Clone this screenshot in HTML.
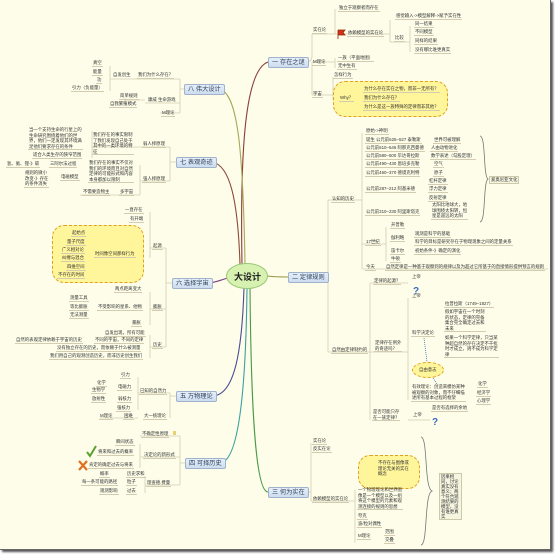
<!DOCTYPE html>
<html><head><meta charset="utf-8">
<style>
html,body{margin:0;padding:0;}
body{width:557px;height:554px;position:relative;overflow:hidden;background:#fff;font-family:"Liberation Sans","Noto Sans CJK SC",sans-serif;}
#bg{position:absolute;left:0;top:0;width:550px;height:549px;background:#fdfde9;box-shadow:2px 2px 2px #555;border-right:1px solid #666;border-bottom:1px solid #666;}
.t{position:absolute;font-size:4.4px;line-height:5.6px;white-space:nowrap;color:#333;border-bottom:0.7px solid #d2cdb0;padding:0 1px;}
.n{border-bottom:none;}
.main{position:absolute;font-size:6.2px;line-height:9px;height:9px;padding:0 3px;background:linear-gradient(#e6eff9,#cddcef);border:0.8px solid #9fb3cc;border-radius:2px;color:#2b3f5a;white-space:nowrap;}
.cloud{position:absolute;background:#fff59b;border:1px dashed #e0a020;border-radius:12px;}
svg{position:absolute;left:0;top:0;}
</style></head><body>
<div id="bg"></div>
<svg width="557" height="554" viewBox="0 0 557 554">
 <g fill="none" stroke-width="1.1">
  <path d="M242,264 C240,150 245,70 268,62" stroke="#8a3b3b"/>
  <path d="M245,264 C243,150 238,95 220,89" stroke="#a8a85a"/>
  <path d="M240,265 C238,200 230,165 212,162" stroke="#8c4a3a"/>
  <path d="M228,278 C220,280 215,283 207,283" stroke="#7a3f8a"/>
  <path d="M267,276 C275,277 280,277 288,277" stroke="#9a9a4a"/>
  <path d="M244,288 C242,350 235,396 212,396" stroke="#4a4a9a"/>
  <path d="M247,288 C246,380 240,462 220,463" stroke="#3aa0a0"/>
  <path d="M250,288 C251,400 255,492 268,492" stroke="#4a9a4a"/>
 </g>
 <g fill="none" stroke="#d2cdb0" stroke-width="0.8">
  <path d="M268,62 H306 M306,62 C310,62 312,60 312,56 V34 M312,62 V95"/>
  <path d="M312,34 H335 M335,34 V9 M335,34 H390 M390,20 V42 M390,42 H410 M410,26 V52"/>
  <path d="M312,62 H335 M335,58 V68"/>
  <path d="M312,95 H333 M333,77 V100"/>
  <path d="M184,89 H180 M180,79 V113 M180,79 H135 M135,79 H110 M110,66 V91 M180,103 H145 M145,100 H125 M125,98 V106 M180,113 H160"/>
  <path d="M176,162 H170 M170,147 V181 M170,147 H140 M140,147 H92 M92,131 V158 M170,181 H140 M140,165 V195 M140,195 H80"/>
  <path d="M172,283 H166 M166,248 V347 M166,248 H150 M150,212 V258 M166,309 H150 M150,292 V325 M166,347 H150 M150,335 V358"/>
  <path d="M176,396 H170 M170,393 V418 M170,393 H138 M138,377 V410 M138,418 H100"/>
  <path d="M185,463 H180 M180,436 V485 M180,436 H140 M180,457 H140 M140,444 V468 M180,485 H145 M145,476 V493"/>
  <path d="M323,277 H328 M328,200 V352 M328,200 H362 M362,133 V269 M362,244 H386 M386,227 V261 M362,269 H548"/>
  <path d="M328,352 H370 M370,283 V420 M370,283 H408 M370,352 H408 M408,298 V400 M408,420 H430"/>
  <path d="M306,492 H311 M311,443 V501 M311,501 H355 M355,490 V543"/>
 </g>
 <path d="M480,136 C486,136 483,176 488,179 C483,182 486,222 480,222" fill="none" stroke="#777" stroke-width="0.8"/>
 <path d="M421,437 C428,437 424,488 432,491 C424,494 428,545 421,545" fill="none" stroke="#777" stroke-width="0.8"/>
 <path d="M424,338 L427,362 M433,378 L437,384" stroke="#3a6ac0" stroke-width="0.8" stroke-dasharray="1,1"/>
 <ellipse cx="247" cy="276" rx="20.5" ry="12.5" fill="#d7f2b0" stroke="#98c878" stroke-width="1"/>
 <!-- flags -->
 <path d="M338,30 V39 M338,30 H345 L343,32.5 L345,35 H338" stroke="#8a2a10" stroke-width="0.8" fill="#d83010"/>
 <path d="M366,462 V472 M366,462 H373 L371,465 L373,468 H366" stroke="#8a2a10" stroke-width="0.8" fill="#d83010"/>
 <!-- question marks -->
 <text x="413" y="294" font-size="10" font-weight="bold" fill="#3a6ac0" font-family="Liberation Sans,sans-serif">?</text>
 <text x="432" y="425" font-size="10" font-weight="bold" fill="#3a6ac0" font-family="Liberation Sans,sans-serif">?</text>
 <!-- check / cross -->
 <path d="M87,452 L90,456 L96,446" stroke="#5aa030" stroke-width="2" fill="none"/>
 <path d="M79,461 L87,470 M87,461 L79,470" stroke="#e07020" stroke-width="2.2"/>
 <rect x="173" y="431" width="3" height="4" fill="#e8d070"/>
</svg>

<div class="cloud" style="left:333px;top:81px;width:113px;height:34px;"></div>
<div class="cloud" style="left:52px;top:225px;width:90px;height:56px;"></div>
<div class="cloud" style="left:358px;top:455px;width:60px;height:32px;"></div>
<div style="position:absolute;left:412px;top:362px;width:30px;height:14px;border-radius:50%;background:#fff59b;border:1px dashed #e0a020;"></div>

<div style="position:absolute;left:227px;top:270px;width:41px;text-align:center;font-size:9px;font-weight:bold;color:#222;">大设计</div>

<div class="main" style="left:268px;top:57px;">一 存在之谜</div>
<div class="main" style="left:288px;top:272px;">二 定律规则</div>
<div class="main" style="left:268px;top:487px;">三 何为实在</div>
<div class="main" style="left:185px;top:458px;">四 可择历史</div>
<div class="main" style="left:176px;top:391px;">五 万物理论</div>
<div class="main" style="left:172px;top:278px;">六 选择宇宙</div>
<div class="main" style="left:176px;top:157px;">七 表观奇迹</div>
<div class="main" style="left:184px;top:84px;">八 伟大设计</div>

<!-- 一 -->
<div class="t" style="left:338px;top:5px;">独立于观察者而存在</div>
<div class="t" style="left:312px;top:27px;">实在论</div>
<div class="t" style="left:347px;top:30px;">依赖模型的实在论</div>
<div class="t" style="left:395px;top:13px;">感觉输入->模型解释->赋予实在性</div>
<div class="t" style="left:394px;top:35px;">比较</div>
<div class="t" style="left:414px;top:21px;">同一结果</div>
<div class="t" style="left:414px;top:29px;">不同模型</div>
<div class="t" style="left:414px;top:38px;">同样的结果</div>
<div class="t" style="left:414px;top:47px;">没有哪比谁更真实</div>
<div class="t" style="left:312px;top:59px;">M理论</div>
<div class="t" style="left:337px;top:55px;">一族（平面地图）</div>
<div class="t" style="left:337px;top:63px;">无中生有</div>
<div class="t" style="left:312px;top:91px;">宇宙</div>
<div class="t" style="left:333px;top:72px;">怎样行为</div>
<div class="t" style="left:339px;top:95px;">Why？</div>
<div class="t" style="left:363px;top:86px;">为什么存在实在之物，而非一无所有？</div>
<div class="t" style="left:363px;top:95px;">我们为什么存在？</div>
<div class="t" style="left:363px;top:104px;">为什么是这一族特殊的定律而非其他？</div>

<!-- 二 -->
<div class="t" style="left:365px;top:128px;">原始->神明</div>
<div class="t" style="left:365px;top:137px;">诞生 公元前625–527 泰勒斯</div>
<div class="t" style="left:433px;top:137px;">世界可被理解</div>
<div class="t" style="left:365px;top:145px;">公元前610–546 阿那克西曼德</div>
<div class="t" style="left:430px;top:145px;">人由动物进化</div>
<div class="t" style="left:365px;top:153px;">公元前580–500 毕达哥拉斯</div>
<div class="t" style="left:430px;top:153px;">数学表述（勾股定理）</div>
<div class="t" style="left:365px;top:161px;">公元前490–430 恩培多克勒</div>
<div class="t" style="left:433px;top:161px;">空气</div>
<div class="t" style="left:365px;top:170px;">公元前460–370 德谟克利特</div>
<div class="t" style="left:433px;top:170px;">原子</div>
<div class="t" style="left:428px;top:178px;">杠杆定律</div>
<div class="t" style="left:365px;top:186px;">公元前287–212 阿基米德</div>
<div class="t" style="left:428px;top:186px;">浮力定律</div>
<div class="t" style="left:428px;top:195px;">反射定律</div>
<div class="t" style="left:365px;top:209px;">公元前310–230 阿里斯塔克</div>
<div class="t" style="left:431px;top:202px;">太阳比地球大，地<br>球围绕太阳转，恒<br>星是遥远的太阳</div>
<div class="t" style="left:489px;top:176px;border:0.7px solid #ccc8a8;background:#f6f5e0;">爱奥尼亚文化</div>
<div class="t" style="left:331px;top:196px;">认知的历史</div>
<div class="t" style="left:365px;top:239px;">17世纪</div>
<div class="t" style="left:390px;top:222px;">开普勒</div>
<div class="t" style="left:390px;top:235px;">伽利略</div>
<div class="t" style="left:414px;top:231px;">观测是科学的基础</div>
<div class="t" style="left:414px;top:239px;">科学的目标是研究存在于物理现象之间的定量关系</div>
<div class="t" style="left:390px;top:248px;">笛卡尔</div>
<div class="t" style="left:414px;top:248px;">初始条件-》确定的演化</div>
<div class="t" style="left:390px;top:256px;">牛顿</div>
<div class="t" style="left:365px;top:264px;">今天</div>
<div class="t" style="left:385px;top:264px;">自然定律是一种基于观察到的规律以及为超过它所基于的直接情形提供预言的规则</div>
<div class="t" style="left:373px;top:278px;">定律的起源？</div>
<div class="t n" style="left:411px;top:274px;">上帝</div>
<div class="t n" style="left:411px;top:293px;">上帝</div>
<div class="t" style="left:444px;top:301px;">拉普拉斯（1749–1827）</div>
<div class="t" style="left:444px;top:309px;">假如宇宙在一个时刻<br>的状态，定律的完备<br>集合完全确定过去和<br>未来</div>
<div class="t" style="left:411px;top:330px;">科学决定论</div>
<div class="t" style="left:444px;top:335px;">如果一个科学定律，只当某<br>种超自然的存在决定不干扰<br>时才成立，则不成为科学定<br>律</div>
<div class="t" style="left:374px;top:340px;">定律存在例外<br>的奇迹吗？</div>
<div class="t" style="left:331px;top:347px;">自然由定律制约的</div>
<div class="t n" style="left:418px;top:367px;">自由意志</div>
<div class="t" style="left:411px;top:384px;">有效理论：创造来模仿某种<br>被观察的对象，而不仔细描<br>述所有基本过程的框架</div>
<div class="t" style="left:477px;top:381px;">化学</div>
<div class="t" style="left:476px;top:390px;">经济学</div>
<div class="t" style="left:476px;top:398px;">心理学</div>
<div class="t" style="left:372px;top:409px;">是否可能只存<br>在一族定律？</div>
<div class="t n" style="left:412px;top:412px;">上帝</div>
<div class="t" style="left:431px;top:405px;">是否有选择的余地</div>

<!-- 三 -->
<div class="t" style="left:312px;top:438px;">实在论</div>
<div class="t" style="left:312px;top:446px;">反实在论</div>
<div class="t n" style="left:377px;top:460px;">不存在与图像或<br>理论无关的实在<br>概念</div>
<div class="t" style="left:312px;top:496px;">依赖模型的实在论</div>
<div class="t" style="left:357px;top:487px;">一个物理理论和世界图<br>像是一个模型以及一组<br>将这个模型的元素和观<br>测连接的规则的思想</div>
<div class="t" style="left:357px;top:513px;">夸克</div>
<div class="t" style="left:357px;top:521px;">波/粒对偶性</div>
<div class="t" style="left:357px;top:533px;">M理论</div>
<div class="t" style="left:384px;top:529px;">范围</div>
<div class="t" style="left:384px;top:537px;">交叠</div>
<div class="t" style="left:439px;top:473px;width:19px;white-space:normal;border:0.7px solid #ccc8a8;background:#f6f5e0;line-height:5px;">因果相同，讨论真实没有意义；两个符合观测结果的模型，没有谁更真实</div>

<!-- 八 -->
<div class="t" style="left:92px;top:60px;">真空</div>
<div class="t" style="left:92px;top:69px;">能量</div>
<div class="t" style="left:96px;top:77px;">功</div>
<div class="t" style="left:71px;top:85px;">引力（负能量）</div>
<div class="t n" style="left:112px;top:72px;">自发创生</div>
<div class="t" style="left:137px;top:72px;">我们为什么存在？</div>
<div class="t" style="left:119px;top:93px;">简单规则</div>
<div class="t n" style="left:147px;top:97px;">康威 生命游戏</div>
<div class="t" style="left:109px;top:101px;">自我繁殖模式</div>
<div class="t" style="left:161px;top:110px;">M理论</div>

<!-- 七 -->
<div class="t" style="left:28px;top:127px;">当一个支持生命的行星上的<br>生命研究围绕着他们的世<br>界，他们一定发现其环境满<br>足他们要求存在的条件</div>
<div class="t" style="left:92px;top:132px;">我们存在的事实限制<br>了我们发现自己处于<br>其中的一类环境的特<br>征</div>
<div class="t" style="left:142px;top:141px;">弱人择原理</div>
<div class="t" style="left:32px;top:152px;">适合人类生存的狭窄范围</div>
<div class="t" style="left:6px;top:161px;">氢、氦、锂-》碳</div>
<div class="t" style="left:49px;top:161px;">三阿尔法过程</div>
<div class="t" style="left:88px;top:160px;">我们存在的事实不仅对<br>我们的环境而且对自然<br>定律的可能形式和内容<br>本身都加以限制</div>
<div class="t" style="left:24px;top:170px;">规则的微小<br>改变-》存在<br>的条件消失</div>
<div class="t" style="left:60px;top:174px;">电磁模型</div>
<div class="t" style="left:142px;top:176px;">强人择原理</div>
<div class="t" style="left:82px;top:189px;">不需要造物主</div>
<div class="t" style="left:119px;top:189px;">多宇宙</div>

<!-- 六 -->
<div class="t" style="left:124px;top:207px;">一直存在</div>
<div class="t" style="left:129px;top:216px;">有开端</div>
<div class="t" style="left:71px;top:230px;">起始点</div>
<div class="t" style="left:66px;top:239px;">量子尺度</div>
<div class="t" style="left:61px;top:247px;">广义相对论</div>
<div class="t" style="left:61px;top:255px;">纠缠与混合</div>
<div class="t" style="left:66px;top:264px;">四维空间</div>
<div class="t" style="left:57px;top:272px;">不存在的时间</div>
<div class="t" style="left:94px;top:251px;">时间像空间那样行为</div>
<div class="t" style="left:152px;top:243px;">起源</div>
<div class="t" style="left:114px;top:286px;">两点距离变大</div>
<div class="t" style="left:69px;top:295px;">测量工具</div>
<div class="t" style="left:69px;top:304px;">等比膨胀</div>
<div class="t" style="left:69px;top:312px;">无法测量</div>
<div class="t" style="left:97px;top:304px;">不受影响的星系、他物</div>
<div class="t" style="left:152px;top:304px;">膨胀</div>
<div class="t" style="left:131px;top:320px;">暴胀</div>
<div class="t" style="left:104px;top:330px;">自发出现，所有可能</div>
<div class="t" style="left:15px;top:337px;">自然的表观定律依赖于宇宙的历史</div>
<div class="t" style="left:94px;top:337px;">不同的宇宙，不同的定律</div>
<div class="t" style="left:56px;top:345px;">没有独立存在的历史，而依赖于什么被测量</div>
<div class="t" style="left:49px;top:353px;">我们用自己的观测创造历史，而非历史创生我们</div>
<div class="t" style="left:152px;top:342px;">历史</div>

<!-- 五 -->
<div class="t" style="left:120px;top:372px;">引力</div>
<div class="t" style="left:96px;top:380px;">化学</div>
<div class="t" style="left:91px;top:387px;">生物学</div>
<div class="t" style="left:117px;top:384px;">电磁力</div>
<div class="t" style="left:91px;top:396px;">放射性</div>
<div class="t" style="left:117px;top:396px;">弱核力</div>
<div class="t" style="left:116px;top:405px;">强核力</div>
<div class="t" style="left:139px;top:388px;">已知的自然力</div>
<div class="t" style="left:99px;top:413px;">M理论</div>
<div class="t" style="left:123px;top:413px;">困难</div>
<div class="t" style="left:143px;top:413px;">大一统理论</div>

<!-- 四 -->
<div class="t" style="left:141px;top:431px;">不确定性原理</div>
<div class="t" style="left:115px;top:439px;">瞬间状态</div>
<div class="t" style="left:97px;top:449px;">将来和过去的概率</div>
<div class="t" style="left:88px;top:462px;">肯定的确定过去与将来</div>
<div class="t" style="left:143px;top:452px;">决定论的新形式</div>
<div class="t" style="left:99px;top:471px;">概率</div>
<div class="t" style="left:126px;top:471px;">历史求和</div>
<div class="t" style="left:81px;top:479px;">每一条可能的路径</div>
<div class="t" style="left:126px;top:479px;">粒子</div>
<div class="t" style="left:146px;top:480px;">理查德.费曼</div>
<div class="t" style="left:99px;top:488px;">观测影响</div>
<div class="t" style="left:126px;top:488px;">过去</div>
</body></html>
